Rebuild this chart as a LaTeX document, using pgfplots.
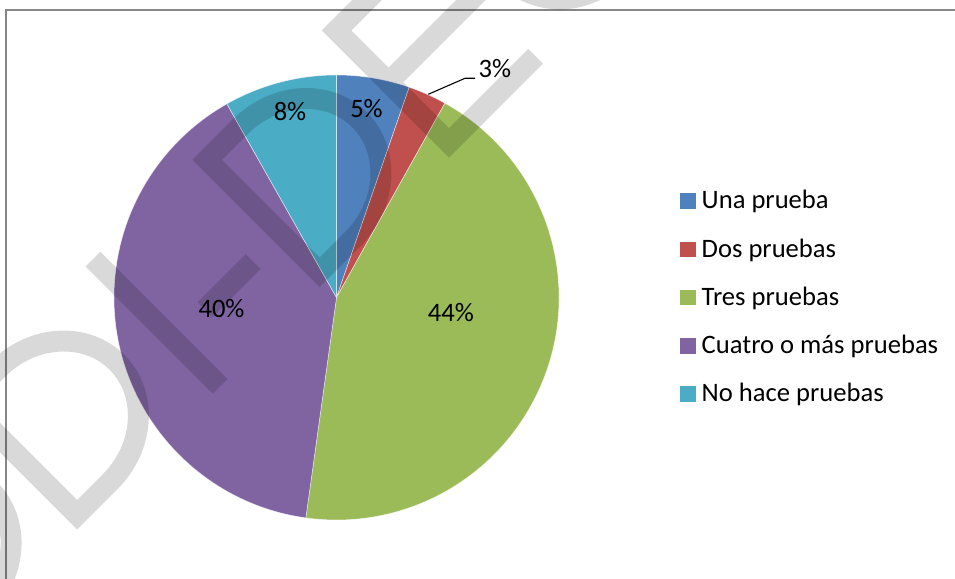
\documentclass[border=0pt]{standalone}
\usepackage{fontspec}
\setmainfont{Carlito}
\usepackage{pgfplots}
\pgfplotsset{compat=1.18}
\definecolor{cA}{HTML}{4F81BD}
\definecolor{cB}{HTML}{C0504D}
\definecolor{cC}{HTML}{9BBB59}
\definecolor{cD}{HTML}{8064A2}
\definecolor{cE}{HTML}{4BACC6}
\definecolor{framegray}{HTML}{868686}
\newcommand\lab{\fontsize{26.7}{32}\selectfont}
\begin{document}
\begin{tikzpicture}[x=1bp,y=1bp]
\useasboundingbox (0,0) rectangle (955,579);
\begin{axis}[at={(0,0)}, anchor=south west, scale only axis,
  width=955bp, height=579bp, xmin=0, xmax=955, ymin=0, ymax=579,
  axis lines=none, clip=false]
% pie slices (percent shares, clockwise from the top)
\def\angstart{90}
\foreach \v/\c in {5.3/cA,2.8/cB,44.1/cC,39.6/cD,8.2/cE}{
  \pgfmathsetmacro\angend{\angstart-3.6*\v}
  \edef\slice{\noexpand\fill[\c,draw=white,draw opacity=0.6,line width=0.6bp]
    (axis cs:336.5,281.5) -- ++(\angstart:222.5bp)
    arc[start angle=\angstart,end angle=\angend,radius=222.5bp] -- cycle;}
  \slice
  \xdef\angstart{\angend}
}
% legend
\foreach \i/\c/\t in {0/cA/Una prueba,1/cB/Dos pruebas,2/cC/Tres pruebas,3/cD/Cuatro o más pruebas,4/cE/No hace pruebas}{
  \pgfmathsetmacro\yb{370-48.25*\i}
  \pgfmathsetmacro\yt{\yb+15.7}
  \edef\tmp{\noexpand\fill[\c] (axis cs:680,\yb) rectangle (axis cs:695.5,\yt);
    \noexpand\node[anchor=base west,inner sep=0pt,font=\noexpand\lab] at (axis cs:701.5,\yb) {\t};}
  \tmp
}
% data labels
\node[anchor=base,inner sep=0pt,font=\lab] at (axis cs:290,458.3) {8\%};
\node[anchor=base,inner sep=0pt,font=\lab] at (axis cs:366.5,461.7) {5\%};
\node[anchor=base,inner sep=0pt,font=\lab] at (axis cs:494.8,501) {3\%};
\node[anchor=base,inner sep=0pt,font=\lab] at (axis cs:221.5,261) {40\%};
\node[anchor=base,inner sep=0pt,font=\lab] at (axis cs:450.8,257) {44\%};
\draw[black,line width=1.1bp] (axis cs:428.3,484.7) -- (axis cs:465,500.7) -- (axis cs:475,500.7);
% frame
\draw[framegray,line width=1.5bp] (axis cs:6,0) -- (axis cs:6,569.2) -- (axis cs:955,569.2);
\end{axis}
% watermark
\begin{scope}
\clip (0,0) rectangle (955,579);
\begin{scope}[shift={(0,579)}, rotate=45]
\begin{scope}[draw=black, draw opacity=0.15, line width=21, line cap=butt, line join=miter]
\draw (-489.5,-259.5) -- (-443,-259.5) arc[start angle=90,end angle=-90,x radius=89.5,y radius=79.5] -- (-489.5,-418.5) -- cycle;
\draw (-309.5,-259.5) -- (-263,-259.5) arc[start angle=90,end angle=-90,x radius=89.5,y radius=79.5] -- (-309.5,-418.5) -- cycle;
\draw (-117.5,-249) -- (-117.5,-429);
\draw (-74,-364) -- (-6,-364);
\draw (33.5,-259.5) -- (80,-259.5) arc[start angle=90,end angle=-90,x radius=89.5,y radius=79.5] -- (33.5,-418.5) -- cycle;
\draw (345,-259.5) -- (216.5,-259.5) -- (216.5,-418.5) -- (339,-418.5) (216.5,-333) -- (345,-333);
\draw (453,-339) circle[radius=79.5];
\end{scope}
\end{scope}
\end{scope}
\end{tikzpicture}
\end{document}
